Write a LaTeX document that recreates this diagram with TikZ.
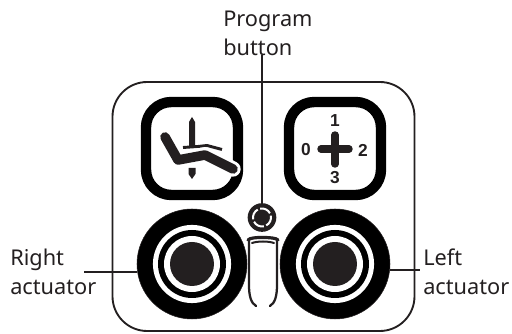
\documentclass[tikz,border=0pt]{standalone}
\usepackage{fontspec}
\setmainfont{Noto Sans}
\newfontfamily\numfont{Liberation Sans}
\definecolor{ink}{HTML}{231F20}
\tikzset{
  lbl/.style={font=\fontsize{16.3}{21.75}\selectfont, text=ink, align=left, inner sep=0pt},
  num/.style={font=\numfont\fontsize{13}{13}\selectfont\bfseries, text=ink, inner sep=0pt},
  wire/.style={draw=ink, line width=1.5pt},
  iconbox/.style={draw=black, line width=7.8pt, rounded corners=19pt},
  bar/.style={draw=ink, line width=5.6pt, line cap=round, line join=round},
  halo/.style={draw=white, line width=11.5pt, line cap=round, line join=round}
}
\begin{document}
\begin{tikzpicture}[x=0.75pt,y=-0.75pt]
\useasboundingbox (0,0) rectangle (512,334);
\draw[draw=ink, line width=1.4pt, rounded corners=26pt] (112.5,82) rectangle (414.5,331);
\coordinate (pbtop) at (262,55);
\coordinate (rfree) at (84,272);
\coordinate (lfree) at (420,270);
% actuators
\foreach \n/\c in {ra/192,la/335}{
  \node[circle,fill=black,draw=ink,minimum size=82.5pt,inner sep=0pt] (\n) at (\c,264) {};
  \fill[white] (\c,264) circle (29.3pt);
  \fill[black] (\c,264) circle (25.5pt);
  \fill[white] (\c,264) circle (21pt);
  \fill[ink] (\c,264) circle (16.5pt);
}
\draw[wire] (rfree) -- (ra.west |- rfree);
\draw[wire] (la.east |- lfree) -- (lfree);
% program button
\node[circle,fill=ink,minimum size=21.5pt,inner sep=0pt] (pb) at (262,217.5) {};
\foreach \a in {25,115,205,295}{
  \draw[white,line width=1.5pt] (pb.center) ++(\a-37:9) arc (\a-37:\a+37:9);
}
\draw[wire] (pbtop) -- (pb.north);
% U-shaped cover
\fill[white] (250,240) -- (276,240) -- (276,300) -- (250,300) -- cycle;
\draw[ink,line width=1.7pt,line cap=round] (249,240) -- (249,285) .. controls (249,296) and (251,303) .. (256,306);
\draw[ink,line width=1.7pt,line cap=round] (277,240) -- (277,285) .. controls (277,296) and (275,303) .. (270,306);
\draw[ink,line width=2.4pt,line cap=round] (248,240) .. controls (250,238) and (255,237.5) .. (262,237.5) .. controls (270,237.5) and (276,238) .. (278,240);
\draw[ink,line width=1.5pt,line cap=round] (252,243) .. controls (258,241) and (268,241) .. (274,243);
% left icon
\draw[iconbox] (146,102) rectangle (238,195);
\fill[ink] (192,117) -- (195,122) -- (195,148) -- (189,148) -- (189,122) -- cycle;
\fill[ink] (188.5,168) -- (195.5,168) -- (195.5,174) -- (192,179) -- (188.5,174) -- cycle;
\draw[draw=ink,line width=2.2pt] (183,147.5) -- (198,146.5) -- (207,145.5) -- (222,149.5);
\draw[white,line width=3pt] (181,153) -- (206,149);
\draw[halo] (206,155) -- (233,169);
\draw[bar,line width=7.2pt] (165,137) -- (178,160) -- (205,155) -- (233,169);
% right icon
\draw[iconbox] (289,102) rectangle (381,195);
\draw[bar] (335,135) -- (335,164);
\draw[bar] (321,149) -- (349,149);
\node[num] (n1) at (335,121) {1};
\node[num] (n0) at (306,150) {0};
\node[num] (n2) at (363,150) {2};
\node[num] (n3) at (335,178) {3};
% labels
\node[lbl,anchor=north west] (tpb) at (223,11) {Program\\button};
\node[lbl,anchor=north west] (trt) at (10,249) {Right\\actuator};
\node[lbl,anchor=north west] (tlt) at (423,249) {Left\\actuator};
\end{tikzpicture}
\end{document}
